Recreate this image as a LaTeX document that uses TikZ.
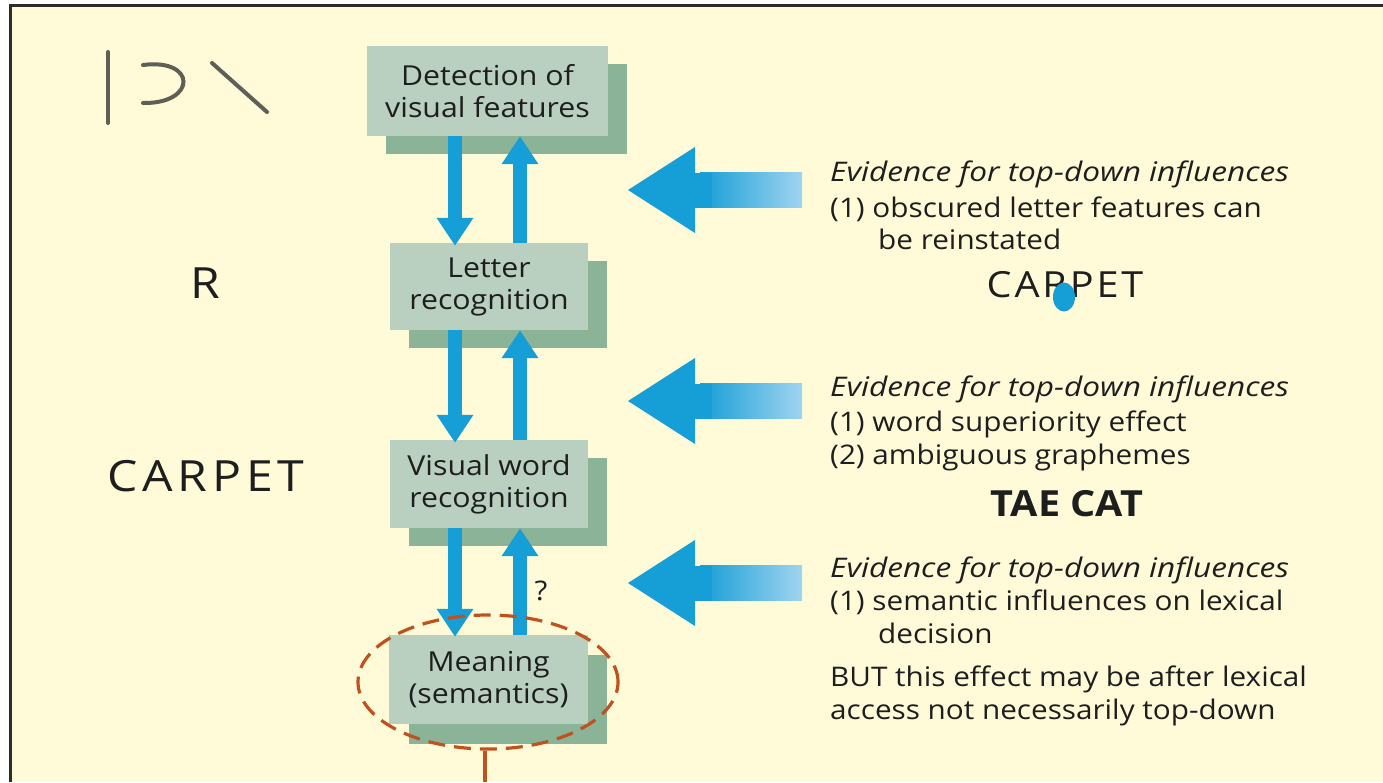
\documentclass[tikz,border=0pt]{standalone}
\usepackage{fontspec}
\setmainfont{Open Sans}[FakeStretch=1.1, ItalicFeatures={FakeStretch=1.17}]
\newfontfamily\spacedfont{Open Sans}[LetterSpace=8, FakeStretch=1.1]
\newfontfamily\spacedwide{Open Sans}[LetterSpace=11, FakeStretch=1.12]
\usetikzlibrary{arrows.meta,shapes.geometric}
\definecolor{bg}{RGB}{255,251,217}
\definecolor{frame}{RGB}{45,45,40}
\definecolor{boxfront}{RGB}{185,208,192}
\definecolor{boxshade}{RGB}{139,179,151}
\definecolor{arrowblue}{RGB}{22,158,214}
\definecolor{lightblue}{RGB}{160,212,240}
\definecolor{txt}{RGB}{30,30,30}
\definecolor{strokegray}{RGB}{95,95,85}
\definecolor{ellcol}{RGB}{192,82,32}
\newcommand\bigarrowL[1]{%
  \shade[left color=arrowblue, right color=lightblue] (700,{#1-17.5}) rectangle (802,{#1+17.5});
  \fill[arrowblue] (628,#1) -- (695,{#1-43}) -- (695,{#1+43}) -- cycle;
  \fill[arrowblue] (694,{#1-17.5}) rectangle (712,{#1+17.5});
}
\begin{document}
\begin{tikzpicture}[x=1pt,y=-1pt,
  boxtext/.style={font=\fontsize{27.5}{32}\selectfont, text=txt, align=center},
  frontbox/.style={fill=boxfront, inner sep=0pt, boxtext},
  shadebox/.style={fill=boxshade, inner sep=0pt},
  varrow/.style={arrowblue, line width=14pt, -{Triangle[width=35pt,length=28pt]}},
  evtext/.style={font=\fontsize{27}{34}\selectfont, text=txt, anchor=base west, inner sep=0pt},
  bigword/.style={font=\spacedfont\fontsize{36}{40}\selectfont, text=txt, inner sep=0pt},
  penstroke/.style={strokegray, line width=4pt, line cap=round}]
\useasboundingbox (0,0) rectangle (1383,782);
\fill[white] (0,0) rectangle (1383,782);
\fill[bg] (10.5,5.5) rectangle (1383,782);
\draw[frame, line width=3pt] (10.5,782) -- (10.5,5.5) -- (1383,5.5);

% pen strokes
\draw[penstroke] (108,52) -- (108,123);
\draw[penstroke] (143,65) .. controls (197,58) and (197,104) .. (143,103);
\draw[penstroke] (212,63) -- (267,112);

% left words
\node[bigword, font=\spacedwide\fontsize{43}{46}\selectfont] (r) at (205,283) {R};
\node[bigword, font=\spacedwide\fontsize{43}{46}\selectfont] (carpetL) at (206,476) {CARPET};

% boxes
\node[shadebox, minimum width=241pt, minimum height=90pt] (s1) at (506.5,109) {};
\node[frontbox, minimum width=241pt, minimum height=90pt] (b1) at (487.5,91) {Detection of\\visual features};
\node[shadebox, minimum width=198pt, minimum height=87pt] (s2) at (508,304.5) {};
\node[frontbox, minimum width=198pt, minimum height=87pt] (b2) at (489,286.5) {Letter\\recognition};
\node[shadebox, minimum width=198pt, minimum height=88pt] (s3) at (508,502) {};
\node[frontbox, minimum width=198pt, minimum height=88pt] (b3) at (489,484) {Visual word\\recognition};
\node[shadebox, minimum width=198pt, minimum height=89pt] (s4) at (507.5,699.5) {};
\node[frontbox, minimum width=199pt, minimum height=89pt] (b4) at (488.5,679.5) {Meaning\\(semantics)};

% vertical arrows
\coordinate (dA) at (455,0);
\coordinate (uA) at (520,0);
\draw[varrow] (b1.south -| dA) -- ([yshift=-3pt]b2.north -| dA);
\draw[varrow] (b2.north -| uA) -- (b1.south -| uA);
\draw[varrow] (b2.south -| dA) -- ([yshift=-3pt]b3.north -| dA);
\draw[varrow] (b3.north -| uA) -- (b2.south -| uA);
\draw[varrow] (b3.south -| dA) -- ([yshift=-2pt]b4.north -| dA);
\draw[varrow] (b4.north -| uA) -- (b3.south -| uA);
\node[font=\fontsize{27}{30}\selectfont, text=txt] (q) at (541,591) {?};

% big arrows
\bigarrowL{190}
\bigarrowL{401}
\bigarrowL{583}

% evidence block 1
\node[evtext] (e1a) at (830,181) {\itshape Evidence for top-down influences};
\node[evtext] (e1b) at (830,217) {(1) obscured letter features can};
\node[evtext] (e1c) at (878,249) {be reinstated};
\node[bigword, anchor=base] (carpetR) at (1065,297) {CARPET};
\fill[arrowblue] (1064,297) ellipse[x radius=11, y radius=14.5];

% evidence block 2
\node[evtext] (e2a) at (830,396) {\itshape Evidence for top-down influences};
\node[evtext] (e2b) at (830,431) {(1) word superiority effect};
\node[evtext] (e2c) at (830,464) {(2) ambiguous graphemes};
\node[font=\fontsize{36}{40}\selectfont\bfseries, text=txt, anchor=base, inner sep=0pt] (tae) at (1067,516) {TAE CAT};

% evidence block 3
\node[evtext] (e3a) at (830,577) {\itshape Evidence for top-down influences};
\node[evtext] (e3b) at (830,610) {(1) semantic influences on lexical};
\node[evtext] (e3c) at (878,643) {decision};
\node[evtext] (e3d) at (830,686) {BUT this effect may be after lexical};
\node[evtext] (e3e) at (830,719) {access not necessarily top-down};

% dashed ellipse
\node[ellipse, draw=ellcol, line width=3.2pt, dash pattern=on 17pt off 9pt, minimum width=260pt, minimum height=134pt, inner sep=0pt] (sem) at (488,682) {};
\coordinate (bot) at (485,782);
\draw[ellcol, line width=3.2pt] (sem.south -| bot) -- (bot);
\end{tikzpicture}
\end{document}
